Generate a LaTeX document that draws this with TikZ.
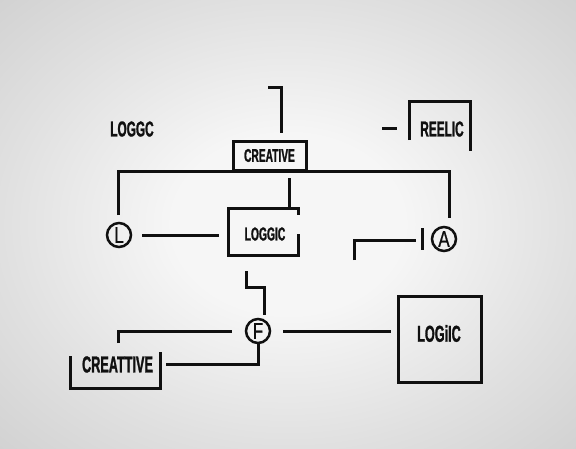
\documentclass[tikz,border=0pt]{standalone}
\usepackage{fontspec}
\setmainfont{Liberation Sans}
\newfontfamily\labelfont[FakeStretch=0.55, FakeBold=1.2, UprightFont={* Bold}]{Liberation Sans}
\newfontfamily\ringfont[FakeStretch=0.75, FakeBold=0.6]{Liberation Sans}
\usetikzlibrary{positioning, calc}
\definecolor{cink}{HTML}{101010}
\definecolor{cpaper}{HTML}{F6F6F6}
\definecolor{clight}{HTML}{E0E0E0}
\definecolor{cmid}{HTML}{CCCCCC}
\definecolor{cside}{HTML}{BCBCBC}
\definecolor{cedge}{HTML}{A8A8A8}
\pgfdeclareradialshading{paper}{\pgfpoint{0bp}{0bp}}{%
  color(0bp)=(cpaper); color(10bp)=(cpaper); color(25bp)=(clight);
  color(40bp)=(cmid); color(55bp)=(cside); color(71bp)=(cedge)}
\tikzset{
  every picture/.style={line width=3pt},
  wire/.style={draw=cink, line cap=butt, line join=miter},
  box/.style={draw=cink, inner sep=0pt, minimum width=#1},
  hollow/.style={inner sep=0pt, minimum width=#1},
  word/.style={font=\labelfont\fontsize{#1}{#1}\selectfont, text=cink, inner sep=0pt},
  ring/.style={circle, draw=cink, line width=2.5pt, minimum size=24pt, inner sep=0pt,
               font=\ringfont\fontsize{23}{23}\selectfont, text=cink},
}

\begin{document}
\begin{tikzpicture}[x=1pt, y=-1pt]
  \shade[shading=paper] (0,0) rectangle (576,448);
  \useasboundingbox (0,0) rectangle (576,448);

  % top row
  \node[word=21.5] (loggc) at (132,129) {LOGGC};
  \node[box=73pt, minimum height=29pt, word=18.5, inner sep=0pt] (creative) at (269.5,155.5) {CREATIVE};
  \coordinate (stubA) at (268,87);
  \coordinate (stubB) at (281,133);
  \draw[wire] (stubA) -| (stubB);
  \node[word=21.5] (reelic) at (442,129) {REELIC};
  \coordinate (dashL) at (382,128);
  \draw[wire] (dashL) -- ++(15,0);
  \coordinate (reelicL) at (409,140);
  \coordinate (reelicR) at (470,151);
  \draw[wire] (reelicL) -- ++(0,-39) -| (reelicR);

  % bus under CREATIVE
  \coordinate (busL) at (118,215);
  \coordinate (busR) at (449,218);
  \draw[wire] (busL) |- (creative.south) -| (busR);

  % middle row
  \node[ring] (ringL) at (119,235) {L};
  \node[ring] (ringA) at (444,239) {A};
  \node[hollow=67pt, minimum height=44pt] (loggic) at (263.5,232) {};
  \node[word=18.7] (loggictext) at (265,234) {LOGGIC};
  \draw[wire] ($(loggic.north east)+(0,6)$) -- (loggic.north east) -- (loggic.north west)
    -- (loggic.south west) -- (loggic.south east) -- ($(loggic.south east)+(0,-22)$);
  \coordinate (midtop) at (289,178);
  \draw[wire] (midtop) -- (midtop |- loggic.north);
  \draw[wire] ($(ringL.east)+(10,0)$) -- ($(loggic.west |- ringL)+(-10,0)$);
  \coordinate (hookA) at (354,260);
  \coordinate (hookB) at (416,240);
  \draw[wire] (hookA) |- (hookB);
  \coordinate (barA) at (422,228);
  \draw[wire] (barA) -- ++(0,22);

  % bottom row
  \node[ring] (ringF) at (258,331) {F};
  \coordinate (jogF) at (246,271);
  \coordinate (jogF2) at (264,315);
  \draw[wire] (jogF) -- ++(0,16) -| (jogF2);
  \node[hollow=87pt, minimum height=33pt] (creattive) at (115.5,370) {};
  \node[word=23] (creattivetext) at (117.5,364.5) {CREATTIVE};
  \draw[wire] ($(creattive.north west)+(0,4)$) -- (creattive.south west)
    -- (creattive.south east) -- (creattive.north east);
  \coordinate (hookF) at (118,343);
  \draw[wire] (hookF) |- ($(ringF.west)+(-13,0)$);
  \coordinate (tailF) at (166,364);
  \draw[wire] (ringF.south) |- (tailF);
  \node[box=83pt, minimum height=86pt] (logic) at (439.5,339) {};
  \node[word=23] (logictext) at (439,333.5) {LOGiIC};
  \draw[wire] ($(ringF.east)+(12,0)$) -- ($(logic.west |- ringF)+(-6,0)$);
\end{tikzpicture}
\end{document}
